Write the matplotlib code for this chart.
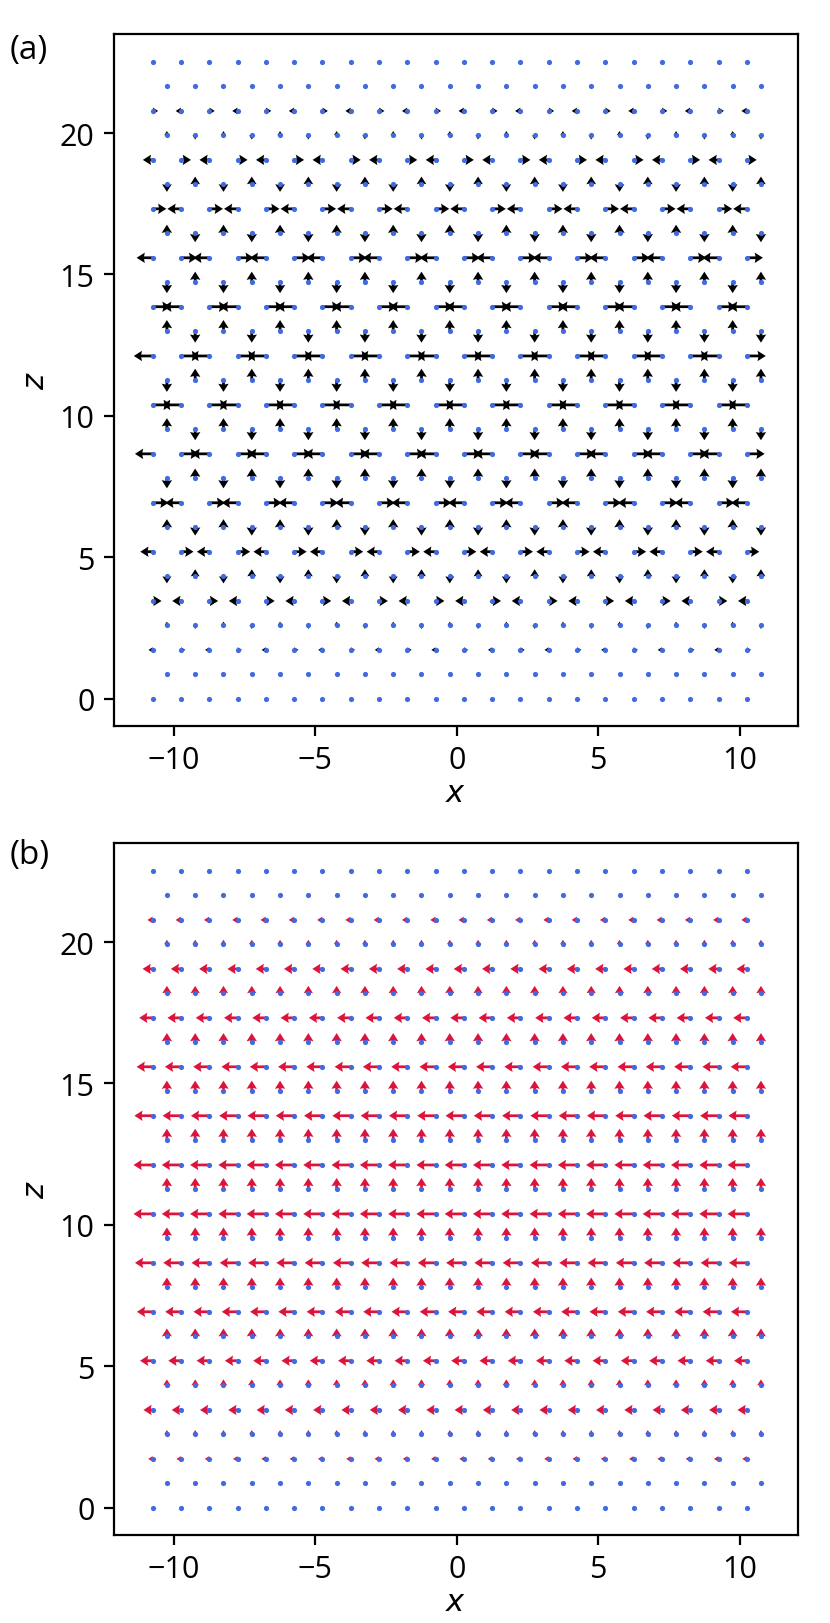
import matplotlib
matplotlib.use("Agg")
import matplotlib.pyplot as plt
import numpy as np

plt.rcParams['font.family'] = ['Open Sans', 'DejaVu Sans']
plt.rcParams['font.size'] = 11

# lattice rows (z) and x positions of the two sublattices
z_rows = [0.0, 0.87, 1.73, 2.6, 3.46, 4.33, 5.2, 6.06, 6.93, 7.79, 8.66, 9.53,
          10.39, 11.26, 12.12, 12.99, 13.86, 14.72, 15.59, 16.45, 17.32, 18.19,
          19.05, 19.92, 20.78, 21.65, 22.52]
x_even = [-10.75, -9.75, -8.75, -7.75, -6.75, -5.75, -4.75, -3.75, -2.75, -1.75, -0.75,
          0.25, 1.25, 2.25, 3.25, 4.25, 5.25, 6.25, 7.25, 8.25, 9.25, 10.25]
x_odd = [-10.25, -9.25, -8.25, -7.25, -6.25, -5.25, -4.25, -3.25, -2.25, -1.25, -0.25,
         0.75, 1.75, 2.75, 3.75, 4.75, 5.75, 6.75, 7.75, 8.75, 9.75, 10.75]

# (a) alternating mode: per-row amplitude, row sign, column sign
amp_a = [0, 0, 0.15, 0.13, 0.31, 0.25, 0.44, 0.29, 0.56, 0.35, 0.63, 0.39, 0.67, 0.41,
         0.67, 0.40, 0.63, 0.38, 0.57, 0.31, 0.48, 0.27, 0.35, 0.15, 0.19, 0, 0]
sign_a = [1, 1, -1, 1, 1, -1, -1, 1, 1, -1, -1, 1, 1, -1,
          -1, 1, 1, -1, -1, 1, 1, -1, -1, 1, 1, -1, -1]
col_a = [1, -1, 1, -1, 1, -1, 1, -1, 1, -1, 1, -1, 1, -1, 1, -1, 1, -1, 1, -1, 1, -1]

# (b) uniform mode: even rows point left, odd rows point up
amp_b = [0, 0, 0.16, 0.15, 0.33, 0.21, 0.45, 0.28, 0.56, 0.35, 0.63, 0.38, 0.68, 0.40,
         0.68, 0.41, 0.65, 0.38, 0.57, 0.33, 0.48, 0.26, 0.36, 0.16, 0.19, 0, 0]
sign_b = [-1, 1, -1, 1, -1, 1, -1, 1, -1, 1, -1, 1, -1, 1,
          -1, 1, -1, 1, -1, 1, -1, 1, -1, 1, -1, 1, -1]
col_b = [1] * 22


def build(amp, sign, cols):
    X, Z, U, V = [], [], [], []
    for r, z in enumerate(z_rows):
        xs = x_even if r % 2 == 0 else x_odd
        for c, x in enumerate(xs):
            val = amp[r] * sign[r] * cols[c]
            X.append(x)
            Z.append(z)
            if r % 2 == 0:
                U.append(val)
                V.append(0.0)
            else:
                U.append(0.0)
                V.append(val)
    return np.array(X), np.array(Z), np.array(U), np.array(V)


fig = plt.figure(figsize=(4.15, 8.12), dpi=200)
W = 684 / 830
H = 692 / 1624
ax1 = fig.add_axes([114 / 830, 1 - 727 / 1624, W, H])
ax2 = fig.add_axes([114 / 830, 1 - 1536 / 1624, W, H])

panels = [(ax1, amp_a, sign_a, col_a, 'k', '(a)', 1 - 51 / 1624),
          (ax2, amp_b, sign_b, col_b, 'crimson', '(b)', 1 - 856 / 1624)]

for ax, amp, sign, cols, colr, lab, ly in panels:
    X, Z, U, V = build(amp, sign, cols)
    ax.quiver(X, Z, U, V, angles='xy', scale_units='xy', scale=1, color=colr,
              width=0.004, headwidth=3.8, headlength=3.0, headaxislength=2.7,
              minlength=0, zorder=2)
    ax.scatter(X, Z, s=3.5, color='royalblue', linewidths=0, zorder=3)
    ax.set_xlim(-12.12, 12.06)
    ax.set_ylim(-0.96, 23.5)
    ax.set_xticks([-10, -5, 0, 5, 10])
    ax.set_yticks([0, 5, 10, 15, 20])
    ax.set_xlabel('$x$', labelpad=1)
    ax.set_ylabel('$z$', labelpad=3)
    fig.text(0.012, ly, lab, va='center', ha='left', fontsize=12)

fig.savefig('out.png', dpi=200)
